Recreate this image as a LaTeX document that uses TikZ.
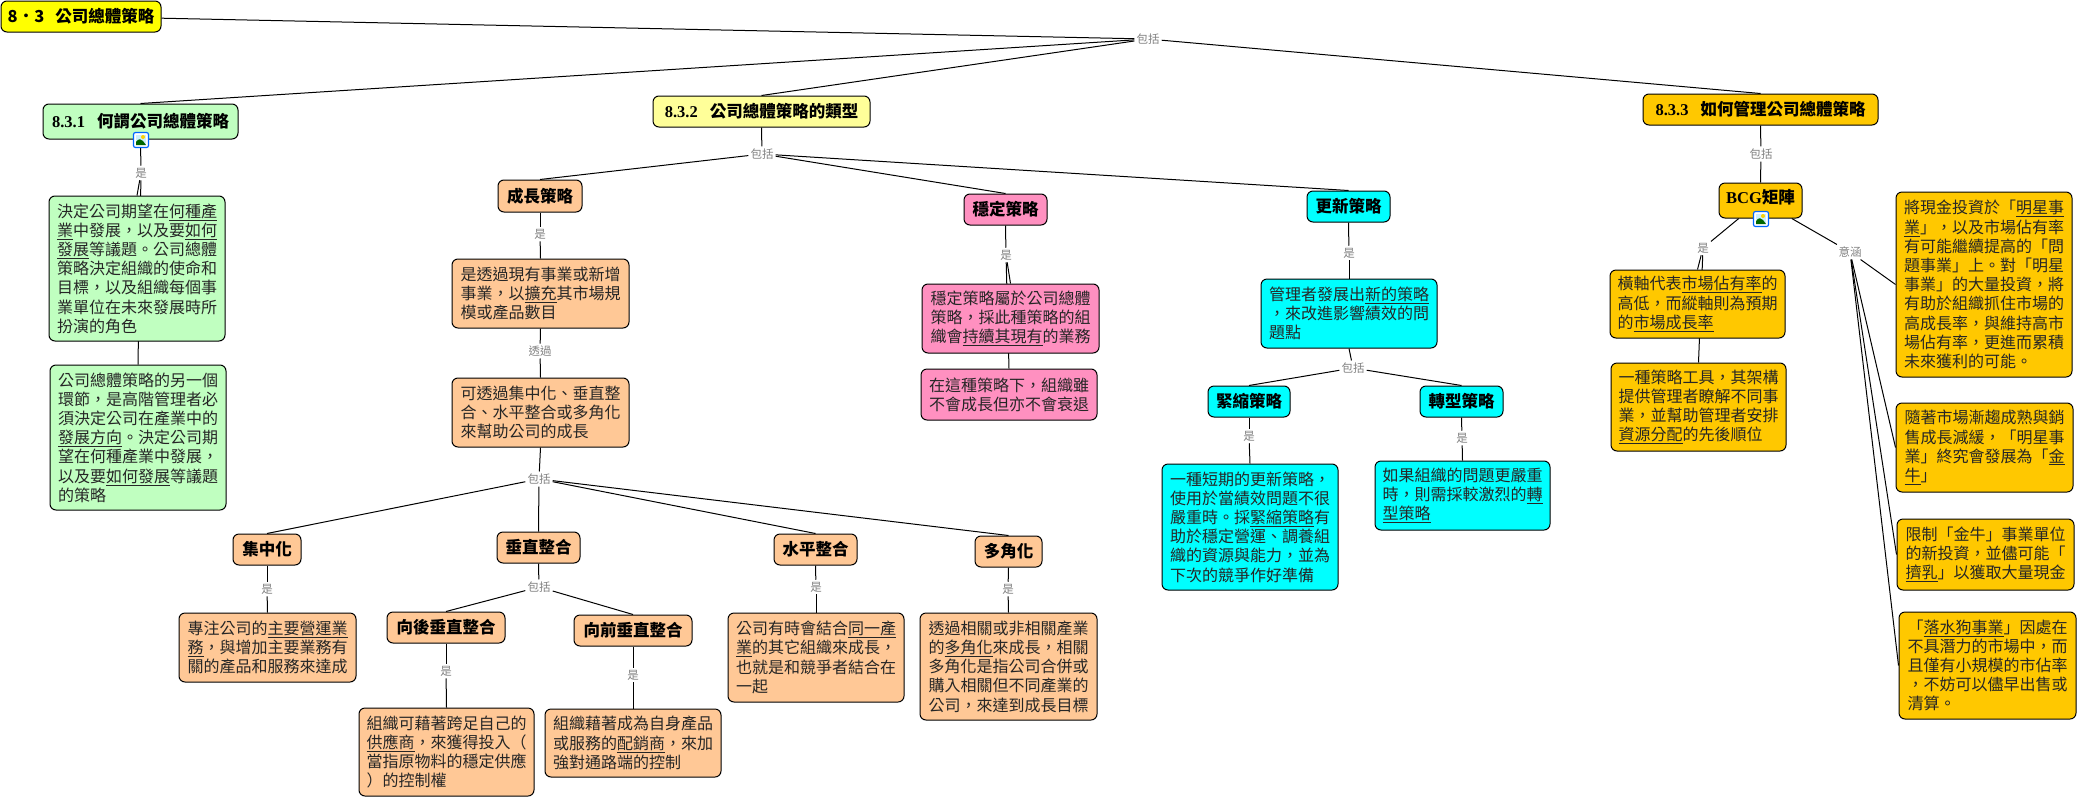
\documentclass[tikz,border=0pt]{standalone}
\usepackage{fontspec}
\setmainfont{Noto Sans CJK TC}
\newfontfamily\latinfont{Liberation Serif}
\usetikzlibrary{backgrounds}

\definecolor{rootcol}{HTML}{FFFF00}
\definecolor{greencol}{HTML}{C0FFC0}
\definecolor{lemoncol}{HTML}{FFFF99}
\definecolor{orangecol}{HTML}{FFC896}
\definecolor{pinkcol}{HTML}{FF90C0}
\definecolor{cyancol}{HTML}{00FFFF}
\definecolor{ambercol}{HTML}{FFC800}

\tikzset{
	cmnode/.style={draw=black, line width=1pt, rounded corners=6pt, inner sep=0pt},
	titlebox/.style={cmnode, align=center, font=\fontsize{16.5}{19.8}\selectfont\bfseries},
	textbox/.style={cmnode, align=left, text=black!85, font=\fontsize{16}{19.2}\selectfont},
	linkword/.style={inner sep=2pt, text=black!50, font=\fontsize{11.5}{13}\selectfont},
	link/.style={draw=black, line width=1pt}
}

% box from its left, right, top and bottom edge
\newcommand{\cmbox}[7]{
	\pgfmathsetmacro{\BXc}{(#3+#4)/2}
	\pgfmathsetmacro{\BYc}{(#5+#6)/2}
	\pgfmathsetmacro{\BXw}{#4-#3}
	\pgfmathsetmacro{\BYh}{#6-#5}
	\node[#2, minimum width=\BXw pt, minimum height=\BYh pt] (#1) at (\BXc,\BYc) {#7};
}

\newcommand{\cmicon}[3]{
	\node[draw=blue!60!cyan, fill=white, line width=1.2pt, rounded corners=2pt, minimum size=15pt, inner sep=0pt] (#1) at (#2,#3) {};
	\fill[cyan!20] (#2-5,#3-5) rectangle (#2+5,#3+5);
	\fill[yellow!70!orange] (#2+2,#3-3) circle (2);
	\fill[green!40!black] (#2-5,#3+5) -- (#2-5,#3+2) .. controls (#2-2,#3-2) and (#2,#3-1) .. (#2+2,#3+1) -- (#2+5,#3+5) -- cycle;
}

\begin{document}
\begin{tikzpicture}[x=1pt,y=-1pt]
\useasboundingbox (0,0) rectangle (2077,798);

\cmbox{root}{titlebox, fill=rootcol}{1}{161}{1}{32}{8．3\hspace{11pt}公司總體策略}

%% 8.3.1
\cmbox{defn}{titlebox, fill=greencol}{43}{238}{104}{139}{{\latinfont 8.3.1}\hspace{12pt}何謂公司總體策略}
\cmbox{defnA}{textbox, fill=greencol}{49}{225}{196}{341}{決定公司期望在\underline{何種產}\\\underline{業}中發展，以及要\underline{如何}\\\underline{發展}等議題。公司總體\\策略決定組織的使命和\\目標，以及組織每個事\\業單位在未來發展時所\\扮演的角色}
\cmbox{defnB}{textbox, fill=greencol}{50}{226}{365}{510}{公司總體策略的另一個\\環節，是高階管理者必\\須決定公司在產業中的\\\underline{發展方向}。決定公司期\\望在何種產業中發展，\\以及要\underline{如何發展}等議題\\的策略}

%% 8.3.2
\cmbox{types}{titlebox, fill=lemoncol}{653}{870}{96}{127}{{\latinfont 8.3.2}\hspace{12pt}公司總體策略的類型}
\cmbox{grow}{titlebox, fill=orangecol}{498}{582}{180}{212}{成長策略}
\cmbox{growA}{textbox, fill=orangecol}{452}{629}{259}{328}{是透過現有事業或新增\\事業，以\underline{擴充}其市場規\\模或產品數目}
\cmbox{growB}{textbox, fill=orangecol}{452}{629}{378}{447}{可透過集中化、垂直整\\合、水平整合或多角化\\來幫助公司的成長}
\cmbox{conc}{titlebox, fill=orangecol}{233}{301}{534}{565}{集中化}
\cmbox{concA}{textbox, fill=orangecol}{179}{356}{613}{682}{專注公司的\underline{主要營運業}\\\underline{務}，與增加主要業務有\\關的產品和服務來達成}
\cmbox{vert}{titlebox, fill=orangecol}{497}{580}{532}{563}{垂直整合}
\cmbox{back}{titlebox, fill=orangecol}{387}{505}{612}{643}{向後垂直整合}
\cmbox{backA}{textbox, fill=orangecol}{359}{534}{708}{796}{組織可藉著跨足自己的\\\underline{供應商}，來獲得投入（\\當指原物料的穩定供應\\）的控制權}
\cmbox{fwd}{titlebox, fill=orangecol}{574}{692}{615}{646}{向前垂直整合}
\cmbox{fwdA}{textbox, fill=orangecol}{545}{721}{709}{777}{組織藉著成為自身產品\\或服務的\underline{配銷商}，來加\\強對通路端的控制}
\cmbox{horz}{titlebox, fill=orangecol}{774}{857}{534}{565}{水平整合}
\cmbox{horzA}{textbox, fill=orangecol}{728}{904}{613}{702}{公司有時會結合\underline{同一產}\\\underline{業}的其它組織來成長，\\也就是和競爭者結合在\\一起}
\cmbox{divs}{titlebox, fill=orangecol}{975}{1042}{536}{567}{多角化}
\cmbox{divsA}{textbox, fill=orangecol}{920}{1097}{613}{720}{透過相關或非相關產業\\的\underline{多角化}來成長，相關\\多角化是指公司合併或\\購入相關但不同產業的\\公司，來達到成長目標}

\cmbox{stab}{titlebox, fill=pinkcol}{964}{1047}{194}{225}{穩定策略}
\cmbox{stabA}{textbox, fill=pinkcol}{922}{1099}{284}{353}{穩定策略屬於公司總體\\策略，採此種策略的組\\織會\underline{持續其現有}的業務}
\cmbox{stabB}{textbox, fill=pinkcol}{921}{1097}{369}{420}{在這種策略下，組織雖\\不會成長但亦不會衰退}

\cmbox{renew}{titlebox, fill=cyancol}{1307}{1390}{191}{222}{更新策略}
\cmbox{renewA}{textbox, fill=cyancol}{1261}{1437}{279}{348}{管理者發展出\underline{新的策略}\\，來改進影響績效的問\\題點}
\cmbox{retr}{titlebox, fill=cyancol}{1208}{1290}{386}{417}{緊縮策略}
\cmbox{retrA}{textbox, fill=cyancol}{1162}{1338}{464}{590}{一種短期的更新策略，\\使用於當績效問題不很\\嚴重時。採\underline{緊縮策略}有\\助於穩定營運、調養組\\織的資源與能力，並為\\下次的競爭作好準備}
\cmbox{turn}{titlebox, fill=cyancol}{1420}{1503}{386}{417}{轉型策略}
\cmbox{turnA}{textbox, fill=cyancol}{1375}{1550}{461}{530}{如果組織的問題更嚴重\\時，則需採較激烈的\underline{轉}\\\underline{型策略}}

%% 8.3.3
\cmbox{manage}{titlebox, fill=ambercol}{1643}{1878}{94}{125}{{\latinfont 8.3.3}\hspace{12pt}如何管理公司總體策略}
\cmbox{bcg}{titlebox, fill=ambercol, text depth=9pt}{1719}{1802}{183}{218}{{\latinfont BCG}矩陣}
\cmbox{bcgA}{textbox, fill=ambercol}{1610}{1785}{270}{338}{橫軸代表\underline{市場佔有率}的\\高低，而縱軸則為預期\\的\underline{市場成長率}}
\cmbox{bcgB}{textbox, fill=ambercol}{1611}{1786}{363}{451}{一種策略工具，其架構\\提供管理者瞭解不同事\\業，並幫助管理者安排\\\underline{資源分配}的先後順位}
\cmbox{star}{textbox, fill=ambercol}{1896}{2072}{192}{377}{將現金投資於「\underline{明星事}\\\underline{業}」，以及市場佔有率\\有可能繼續提高的「問\\題事業」上。對「明星\\事業」的大量投資，將\\有助於組織抓住市場的\\高成長率，與維持高市\\場佔有率，更進而累積\\未來獲利的可能。}
\cmbox{cow}{textbox, fill=ambercol}{1896}{2073}{403}{492}{隨著市場漸趨成熟與銷\\售成長減緩，「明星事\\業」終究會發展為「\underline{金}\\\underline{牛}」}
\cmbox{milk}{textbox, fill=ambercol}{1897}{2074}{519}{590}{限制「金牛」事業單位\\的新投資，並儘可能「\\\underline{擠乳}」以獲取大量現金}
\cmbox{dog}{textbox, fill=ambercol}{1899}{2076}{612}{719}{「\underline{落水狗事業}」因處在\\不具潛力的市場中，而\\且僅有小規模的市佔率\\，不妨可以儘早出售或\\清算。}

\cmicon{defnimg}{141}{140}
\cmicon{bcgimg}{1761}{219}

%link words
\node[linkword] (lwroot) at (1148,39) {包括};
\node[linkword] (lwdefn) at (141,173) {是};
\node[linkword] (lwtypes) at (762,154) {包括};
\node[linkword] (lwgrow) at (540,234) {是};
\node[linkword] (lwgrowA) at (540,351) {透過};
\node[linkword] (lwgrowB) at (539,479) {包括};
\node[linkword] (lwconc) at (267,589) {是};
\node[linkword] (lwvert) at (539,587) {包括};
\node[linkword] (lwback) at (446,671) {是};
\node[linkword] (lwfwd) at (633,675) {是};
\node[linkword] (lwhorz) at (816,587) {是};
\node[linkword] (lwdivs) at (1008,589) {是};
\node[linkword] (lwstab) at (1006,255) {是};
\node[linkword] (lwrenew) at (1349,253) {是};
\node[linkword] (lwrenewA) at (1353,368) {包括};
\node[linkword] (lwretr) at (1249,436) {是};
\node[linkword] (lwturn) at (1462,438) {是};
\node[linkword] (lwmanage) at (1761,154) {包括};
\node[linkword] (lwbcg) at (1703,248) {是};
\node[linkword] (lwimply) at (1850,252) {意涵};

\begin{scope}[on background layer]
\draw[link] (root) -- (lwroot);
\foreach \kid in {defn,types,manage}
	\draw[link] (lwroot) -- (\kid.north);

\draw[link] (defn.south) -- (lwdefn);
\foreach \kid in {defnA,defnB}
	\draw[link] (lwdefn) -- (\kid.north);

\draw[link] (types.south) -- (lwtypes);
\foreach \kid in {grow,stab,renew}
	\draw[link] (lwtypes) -- (\kid.north);

\draw[link] (grow.south) -- (lwgrow);
\draw[link] (lwgrow) -- (growA.north);
\draw[link] (growA.south) -- (lwgrowA);
\draw[link] (lwgrowA) -- (growB.north);
\draw[link] (growB.south) -- (lwgrowB);
\foreach \kid in {conc,vert,horz,divs}
	\draw[link] (lwgrowB) -- (\kid.north);

\draw[link] (conc.south) -- (lwconc);
\draw[link] (lwconc) -- (concA.north);
\draw[link] (vert.south) -- (lwvert);
\foreach \kid in {back,fwd}
	\draw[link] (lwvert) -- (\kid.north);
\draw[link] (back.south) -- (lwback);
\draw[link] (lwback) -- (backA.north);
\draw[link] (fwd.south) -- (lwfwd);
\draw[link] (lwfwd) -- (fwdA.north);
\draw[link] (horz.south) -- (lwhorz);
\draw[link] (lwhorz) -- (horzA.north);
\draw[link] (divs.south) -- (lwdivs);
\draw[link] (lwdivs) -- (divsA.north);

\draw[link] (stab.south) -- (lwstab);
\foreach \kid in {stabA,stabB}
	\draw[link] (lwstab) -- (\kid.north);

\draw[link] (renew.south) -- (lwrenew);
\draw[link] (lwrenew) -- (renewA.north);
\draw[link] (renewA.south) -- (lwrenewA);
\foreach \kid in {retr,turn}
	\draw[link] (lwrenewA) -- (\kid.north);
\draw[link] (retr.south) -- (lwretr);
\draw[link] (lwretr) -- (retrA.north);
\draw[link] (turn.south) -- (lwturn);
\draw[link] (lwturn) -- (turnA.north);

\draw[link] (manage.south) -- (lwmanage);
\draw[link] (lwmanage) -- (bcg.north);
\draw[link] (bcg) -- (lwbcg);
\foreach \kid in {bcgA,bcgB}
	\draw[link] (lwbcg) -- (\kid.north);
\draw[link] (bcg) -- (lwimply);
\foreach \kid in {star,cow,milk,dog}
	\draw[link] (lwimply) -- (\kid.west);
\end{scope}
\end{tikzpicture}
\end{document}
